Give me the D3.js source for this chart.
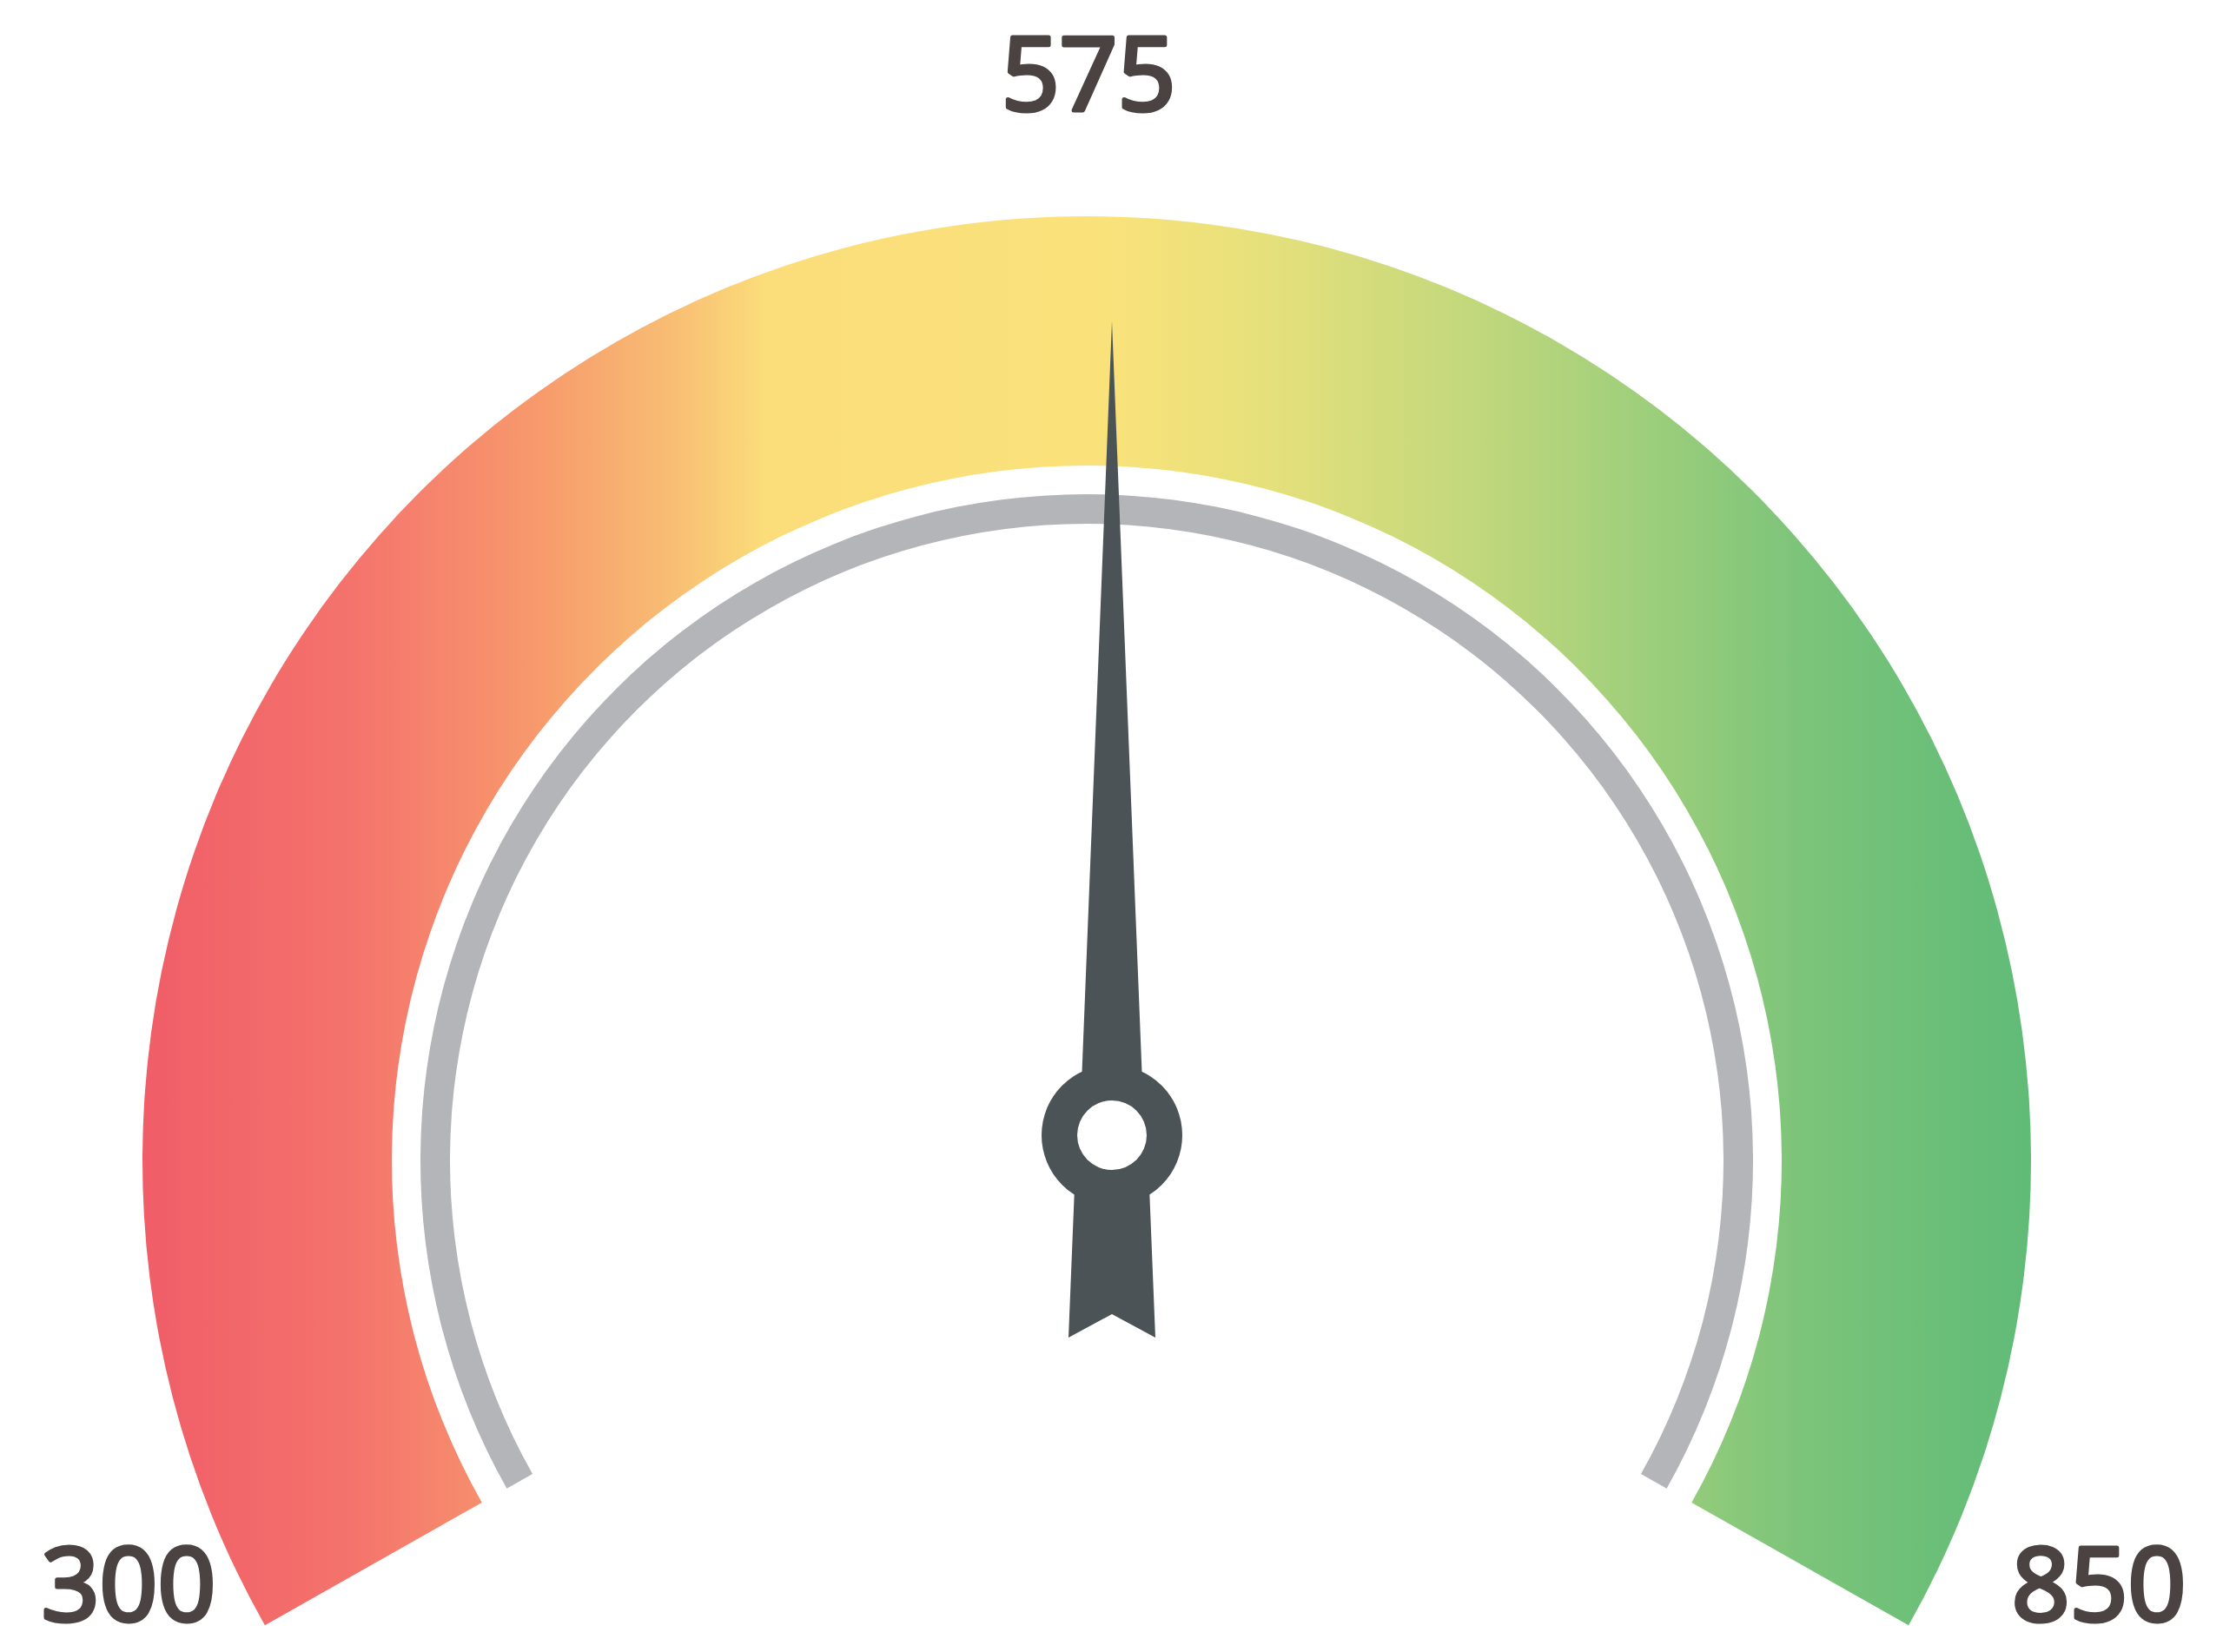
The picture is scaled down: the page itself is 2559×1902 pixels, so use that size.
<!DOCTYPE html>
<html><head><meta charset="utf-8">
<script src="https://cdn.jsdelivr.net/npm/d3@7"></script>
<style>html,body{margin:0;padding:0;background:#ffffff;} svg{display:block}</style>
</head><body>
<script>
// ---- data ----
const scoreMin = 300;
const scoreMax = 850;
const scoreValue = 575;
const endLabels = ["300", "850"];
const valueLabel = "575";
const gradientOffsets = [0.0, 0.11, 0.21, 0.28, 0.33, 0.51, 0.60, 0.71, 0.79, 0.88, 1.0];
const gradientColors = ["#f05d68", "#f4736c", "#f79a6c", "#f8bd73", "#fbdd7a", "#fae27a", "#e4e07b", "#c0d77c", "#a0cf7b", "#7bc47a", "#60bb77"];

// ---- layout ----
const W = 2559, H = 1902;
const cx = 1251, cy = 1336;          // arc centre
const hx = 1280, hy = 1307;          // needle hub
const rOuter = 1087, rInner = 800;
const ringOuter = 767, ringInner = 733;
const sweep = 119.5 * Math.PI / 180;

const svg = d3.select("body").append("svg").attr("width", W).attr("height", H);
svg.append("rect").attr("width", W).attr("height", H).attr("fill", "#ffffff");

const angle = d3.scaleLinear().domain([scoreMin, scoreMax]).range([-sweep, sweep]);

const defs = svg.append("defs");
const grad = defs.append("linearGradient").attr("id", "g")
  .attr("gradientUnits", "userSpaceOnUse")
  .attr("x1", -rOuter).attr("x2", rOuter).attr("y1", 0).attr("y2", 0);
grad.selectAll("stop").data(gradientOffsets).join("stop")
  .attr("offset", d => d).attr("stop-color", (d, i) => gradientColors[i]);

const g = svg.append("g").attr("transform", `translate(${cx},${cy})`);

g.append("path")
  .attr("d", d3.arc().innerRadius(rInner).outerRadius(rOuter)
    .startAngle(angle(scoreMin)).endAngle(angle(scoreMax))())
  .attr("fill", "url(#g)");

g.append("path")
  .attr("d", d3.arc().innerRadius(ringInner).outerRadius(ringOuter)
    .startAngle(angle(scoreMin)).endAngle(angle(scoreMax))())
  .attr("fill", "#b4b5b9");

// needle
const needleColor = "#4b5357";
const ng = svg.append("g")
  .attr("transform", `translate(${hx},${hy}) rotate(${angle(scoreValue) * 180 / Math.PI})`);
const line = d3.line();
ng.append("path").attr("d", line([[0, -937], [35, -60], [-35, -60]]) + "Z").attr("fill", needleColor);
ng.append("path").attr("d", line([[-43, 60], [43, 60], [50, 233], [0, 206], [-50, 233]]) + "Z").attr("fill", needleColor);
ng.append("circle").attr("r", 81).attr("fill", needleColor);
ng.append("circle").attr("r", 40).attr("fill", "#ffffff");

// labels
const font = "'Open Sans', 'Noto Sans', sans-serif";
const styleText = sel => sel.attr("text-anchor", "middle")
  .attr("font-family", font).attr("font-weight", 400).attr("font-size", 117)
  .attr("fill", "#4a4341").attr("stroke", "#4a4341").attr("stroke-width", 5)
  .attr("stroke-linejoin", "round");
svg.append("text").attr("x", cx + 2).attr("y", 127).call(styleText).text(valueLabel);
svg.selectAll("text.end").data(endLabels).join("text").attr("class", "end")
  .attr("x", (d, i) => i === 0 ? 148 : 2416)
  .attr("y", 1866)
  .call(styleText).text(d => d);
</script>
</body></html>
